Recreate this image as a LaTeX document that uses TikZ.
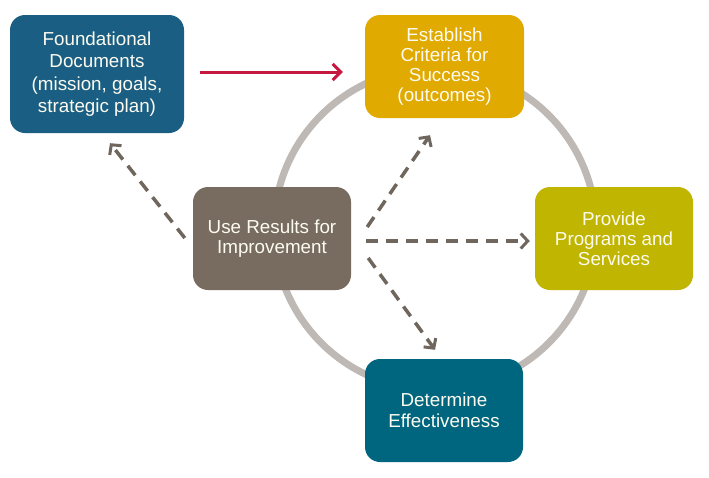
\documentclass[tikz,border=0pt]{standalone}
\usepackage{fontspec}
\setmainfont{Liberation Sans}
\usetikzlibrary{arrows.meta,calc}
\definecolor{cfound}{HTML}{1A5F83}
\definecolor{ccrit}{HTML}{E0AA00}
\definecolor{cprov}{HTML}{C0B500}
\definecolor{ceff}{HTML}{00667F}
\definecolor{cuse}{HTML}{786C61}
\definecolor{cring}{HTML}{BEB9B4}
\definecolor{cred}{HTML}{C4183F}
\definecolor{cdash}{HTML}{6F665E}
\definecolor{ctext}{HTML}{FDFBF0}
\begin{document}
\begin{tikzpicture}[x=1pt,y=-1pt,
  box/.style={rounded corners=15pt, text=ctext, align=center,
    font=\fontsize{18.8}{21.5}\selectfont, inner sep=0pt,
    minimum width=158pt, minimum height=103pt},
  ring/.style={draw=cring, line width=7pt},
  redarrow/.style={draw=cred, line width=3pt,
    -{Straight Barb[length=8pt,width=16pt,line width=3pt]}},
  dasharrow/.style={draw=cdash, line width=3.5pt, dash pattern=on 12pt off 8pt,
    -{Straight Barb[length=7pt,width=15pt,line width=3pt]}}]
\useasboundingbox (0,0) rectangle (709,477);
\fill[white] (0,0) rectangle (709,477);
\draw[ring] (435,229) circle[radius=161];
\node[box, fill=cfound, minimum width=174pt, minimum height=118pt,
  font=\fontsize{18.8}{22.5}\selectfont] (found) at (97,74)
  {Foundational\\Documents\\(mission, goals,\\strategic plan)};
\node[box, fill=ccrit, minimum width=159pt, font=\fontsize{18.8}{20}\selectfont] (crit) at (444.5,66.5)
  {Establish\\Criteria for\\Success\\(outcomes)};
\node[box, fill=cprov, font=\fontsize{18.8}{20}\selectfont] (prov) at (614,238.5)
  {Provide\\Programs and\\Services};
\node[box, fill=ceff] (eff) at (444,410.5)
  {Determine\\Effectiveness};
\node[box, fill=cuse, font=\fontsize{18.8}{20}\selectfont] (use) at (272,238.5)
  {Use Results for\\Improvement};
\draw[redarrow] ($(found.east)+(16,-2)$) -- ($(crit.west)+(-22,5.5)$);
\draw[dasharrow] ($(use.west)+(-8,-0.5)$) -- ($(found.south)+(13,10)$);
\draw[dasharrow] ($(use.east)+(16,-11.5)$) -- ($(crit.south)+(-14.5,17)$);
\draw[dasharrow] ($(use.east)+(15,2.5)$) -- ($(prov.west)+(-5,2.5)$);
\draw[dasharrow] ($(use.east)+(17,19.5)$) -- ($(eff.north)+(-9,-9)$);
\end{tikzpicture}
\end{document}
